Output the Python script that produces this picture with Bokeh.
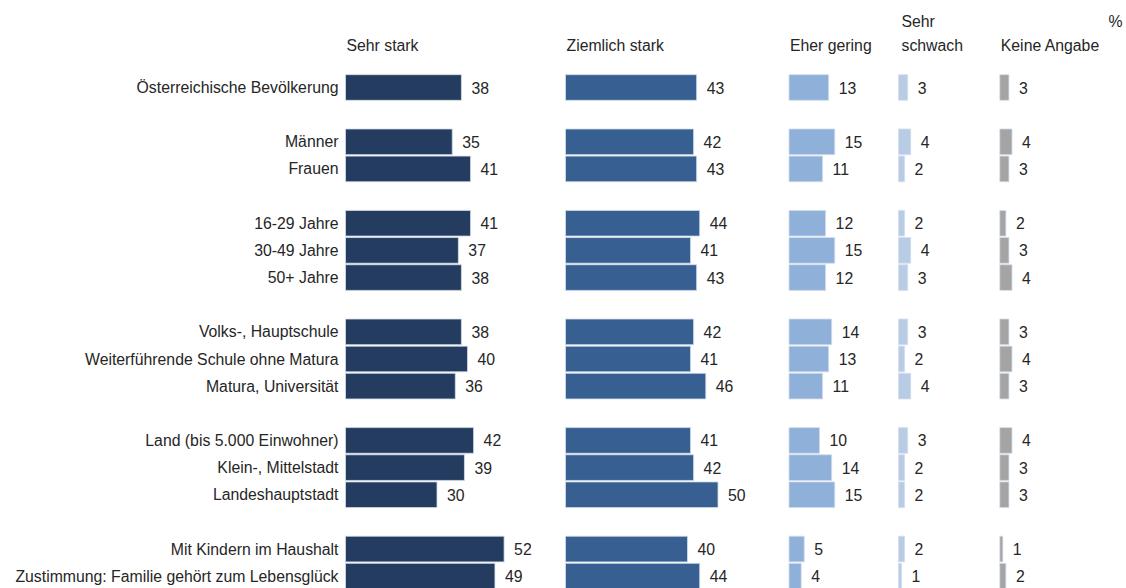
from bokeh.plotting import figure
from bokeh.models import Range1d, ColumnDataSource
from bokeh.embed import file_html
from bokeh.resources import INLINE
from bokeh.core.properties import value

# ---------------- data ----------------
categories = [
    "Österreichische Bevölkerung",
    "Männer", "Frauen",
    "16-29 Jahre", "30-49 Jahre", "50+ Jahre",
    "Volks-, Hauptschule", "Weiterführende Schule ohne Matura", "Matura, Universität",
    "Land (bis 5.000 Einwohner)", "Klein-, Mittelstadt", "Landeshauptstadt",
    "Mit Kindern im Haushalt", "Zustimmung: Familie gehört zum Lebensglück",
]
row_slots = [0, 2, 3, 5, 6, 7, 9, 10, 11, 13, 14, 15, 17, 18]

sehr_stark     = [38, 35, 41, 41, 37, 38, 38, 40, 36, 42, 39, 30, 52, 49]
ziemlich_stark = [43, 42, 43, 44, 41, 43, 42, 41, 46, 41, 42, 50, 40, 44]
eher_gering    = [13, 15, 11, 12, 15, 12, 14, 13, 11, 10, 14, 15, 5, 4]
sehr_schwach   = [3, 4, 2, 2, 4, 3, 3, 2, 4, 3, 2, 2, 2, 1]
keine_angabe   = [3, 4, 3, 2, 3, 4, 3, 4, 3, 4, 3, 3, 1, 2]

series = [sehr_stark, ziemlich_stark, eher_gering, sehr_schwach, keine_angabe]
headers = [["Sehr stark"], ["Ziemlich stark"], ["Eher gering"], ["Sehr", "schwach"], ["Keine Angabe"]]
unit_label = "%"

# ---------------- layout / style ----------------
W, H = 1126, 588
PX = 3.05          # pixels per percentage point
ROW = 27.15        # pixels per row slot
LEFT0 = 345        # px from frame left to first panel start
TOP0 = 87          # px from frame top to centre of first row
panel_px = [0, 220, 443.5, 553, 654.3]
offsets = [p / PX for p in panel_px]
colors = ["#243c5f", "#375f92", "#8fb0d9", "#b8cce6", "#a4a4a4"]
FONT = value("Liberation Sans")
FS = "15.8px"
TXT = "#262626"

p = figure(width=W, height=H, output_backend="svg", toolbar_location=None,
           x_range=Range1d(-LEFT0 / PX, (W - LEFT0) / PX),
           y_range=Range1d(-(H - TOP0) / ROW, TOP0 / ROW),
           x_axis_location=None, y_axis_location=None,
           min_border=0, outline_line_color=None)
p.xgrid.visible = False
p.ygrid.visible = False
p.background_fill_color = "white"
p.border_fill_color = "white"

ys = [-s for s in row_slots]

for vals, off, col in zip(series, offsets, colors):
    src = ColumnDataSource(dict(
        y=ys,
        left=[off] * len(vals),
        right=[off + v for v in vals],
        lab=[str(v) for v in vals],
    ))
    p.hbar(y="y", left="left", right="right", height=0.945, source=src,
           fill_color=col, line_color="#d3ddeb", line_width=0.8)
    p.text(x="right", y="y", text="lab", source=src, x_offset=10,
           text_align="left", text_baseline="middle",
           text_font=FONT, text_font_size=FS, text_color=TXT)

# category labels
p.text(x=[0] * len(categories), y=ys, text=categories, x_offset=-7,
       text_align="right", text_baseline="middle",
       text_font=FONT, text_font_size=FS, text_color=TXT)

# column headers
line1_y = (TOP0 - 45) / ROW
line0_y = (TOP0 - 21) / ROW
for hdr, off in zip(headers, offsets):
    if len(hdr) == 1:
        p.text(x=[off], y=[line1_y], text=hdr, x_offset=1,
               text_align="left", text_baseline="middle",
               text_font=FONT, text_font_size=FS, text_color=TXT)
    else:
        p.text(x=[off, off], y=[line0_y, line1_y], text=hdr, x_offset=3,
               text_align="left", text_baseline="middle",
               text_font=FONT, text_font_size=FS, text_color=TXT)

p.text(x=[(W - LEFT0) / PX], y=[line0_y], text=[unit_label], x_offset=-4,
       text_align="right", text_baseline="middle",
       text_font=FONT, text_font_size=FS, text_color=TXT)

open("out.html", "w").write(file_html(p, INLINE))
